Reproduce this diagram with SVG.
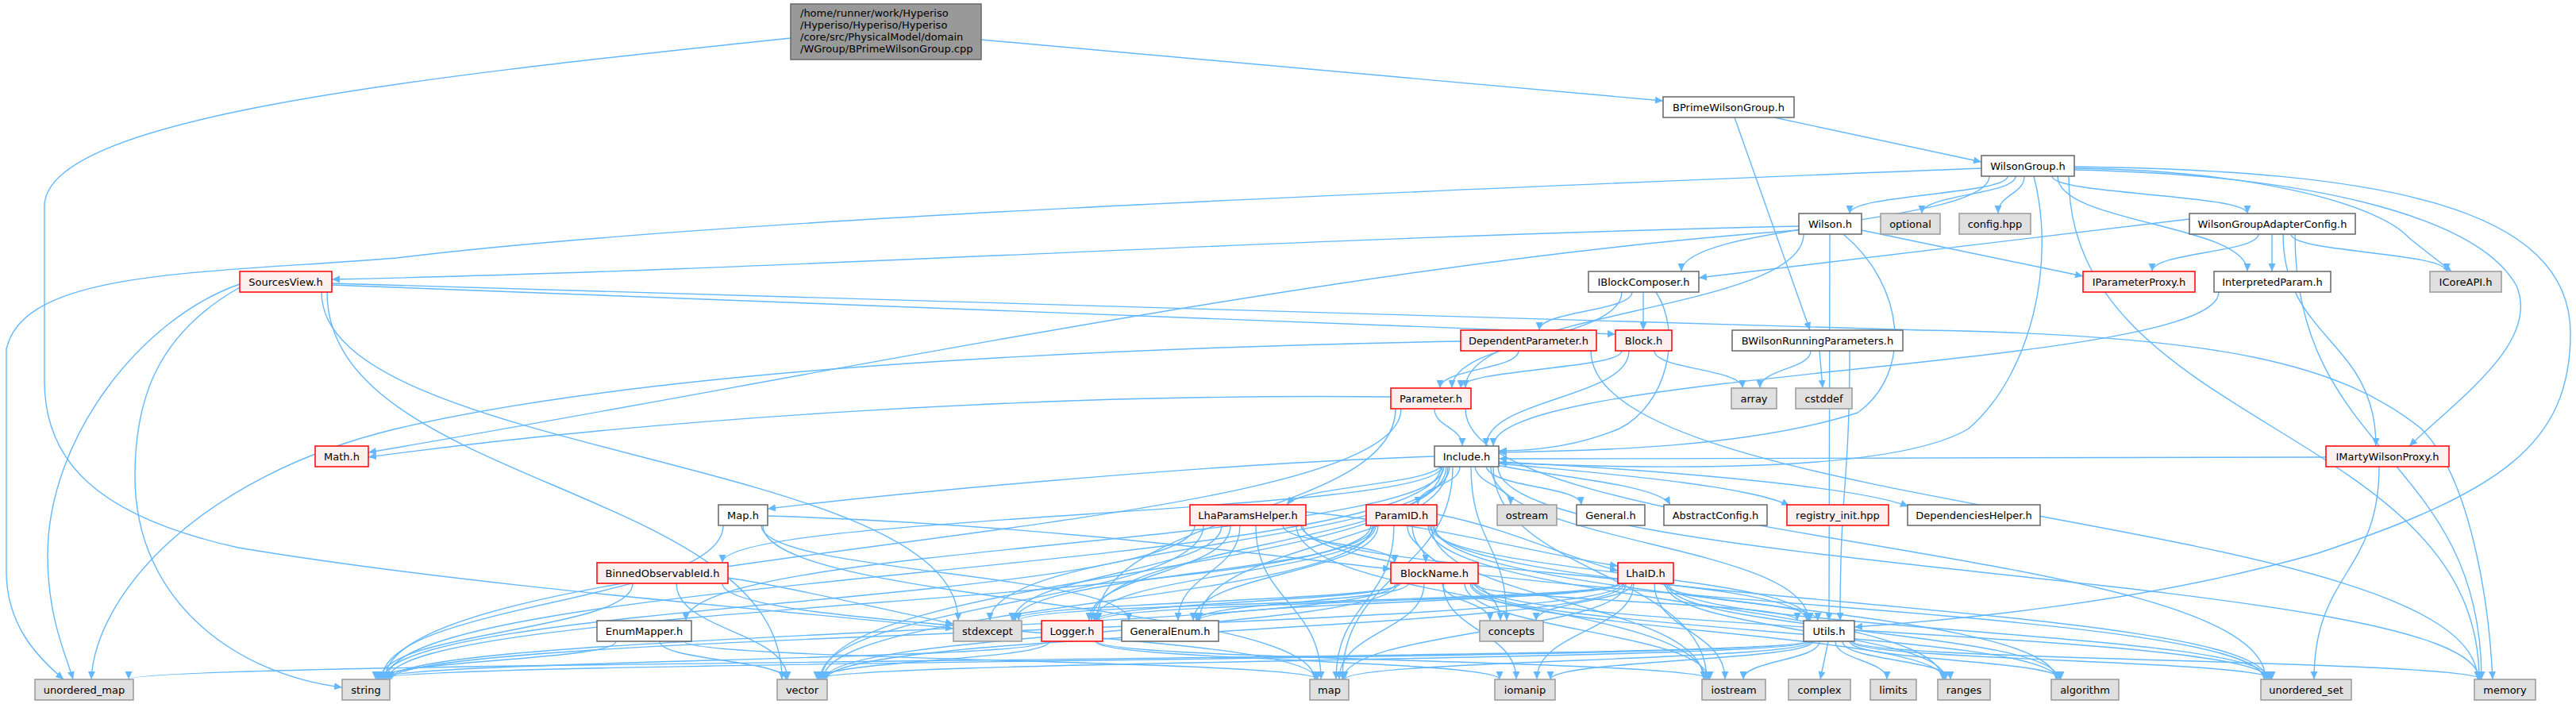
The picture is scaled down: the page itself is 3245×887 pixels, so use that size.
<svg xmlns="http://www.w3.org/2000/svg" width="3245" height="887" viewBox="0 0 3245 887">
<style>
.e{fill:none;stroke:#63b8ff;stroke-width:1.4;marker-end:url(#a)}
.w{fill:#ffffff;stroke:#666666;stroke-width:1.5}
.g{fill:#e0e0e0;stroke:#999999;stroke-width:1.5}
.r{fill:#fff0f0;stroke:#ff0000;stroke-width:1.5}
.rt{fill:#999999;stroke:#666666;stroke-width:1.5}
text{font-family:"DejaVu Sans","Liberation Sans",sans-serif;font-size:13px;fill:#000000;text-anchor:middle}
text.l{text-anchor:start}
</style>
<defs>
<marker id="a" markerUnits="userSpaceOnUse" markerWidth="11" markerHeight="9" refX="10" refY="4.5" orient="auto"><path d="M0,0 L10,4.5 L0,9 z" fill="#63b8ff"/></marker>
</defs>
<g id="edges">
<path class="e" d="M1236,50 C1600,83 1900,110 2095,127"/>
<path class="e" d="M996,48 C500,100 56,150 56,260 L56,480 C56,580 120,650 300,690 C600,740 1000,770 1201,792"/>
<path class="e" d="M2235,148 L2496,204"/>
<path class="e" d="M2185,148 L2280,416"/>
<path class="e" d="M2496,212 C1800,240 900,275 500,325 C250,345 30,340 8,440 L8,720 C8,790 50,830 80,856"/>
<path class="e" d="M2266,285 C1600,300 1000,340 418,352"/>
<path class="e" d="M418,357 L2420,416 C2800,422 2950,460 3050,540 C3110,600 3135,750 3140,856"/>
<path class="e" d="M418,359 L2035,421"/>
<path class="e" d="M2758,276 L2140,350"/>
<path class="e" d="M2345,290 L2624,348"/>
<path class="e" d="M2266,290 C1700,330 1000,480 464,570"/>
<path class="e" d="M1752,500 C1300,495 800,530 464,576"/>
<path class="e" d="M1840,430 C1300,440 800,470 500,540 C250,600 120,750 115,856"/>
<path class="e" d="M2930,576 C2500,578 2200,578 1888,578"/>
<path class="e" d="M2562,222 C2590,330 2560,470 2480,540 C2380,600 2050,590 1888,583"/>
<path class="e" d="M2613,210 C3000,215 3238,260 3238,420 C3238,560 3150,620 2920,697 C2700,760 2450,782 2336,790"/>
<path class="e" d="M2613,212 C2850,215 3000,260 3035,300 C3060,320 3080,335 3088,342"/>
<path class="e" d="M2613,214 C2900,220 3120,270 3170,360 C3200,430 3100,500 3035,562"/>
<path class="e" d="M2529,222 C2529,245 2330,245 2330,269"/>
<path class="e" d="M2539,222 C2539,245 2421,245 2421,269"/>
<path class="e" d="M2550,222 C2550,245 2517,245 2517,269"/>
<path class="e" d="M2585,222 C2585,245 2831,245 2831,269"/>
<path class="e" d="M2506,222 C2506,282 2118,282 2118,342"/>
<path class="e" d="M2592,222 C2592,282 2831,282 2831,342"/>
<path class="e" d="M2606,222 C2606,539 3123,539 3123,856"/>
<path class="e" d="M2272,295 C2272,392 1846,392 1846,489"/>
<path class="e" d="M2322,295 C2400,360 2410,470 2340,520 C2200,565 2000,568 1888,570"/>
<path class="e" d="M2305,295 C2305,538 2304,538 2304,782"/>
<path class="e" d="M2845,295 C2845,318 2711,318 2711,342"/>
<path class="e" d="M2862,295 L2862,342"/>
<path class="e" d="M2886,295 C2886,318 3082,318 3082,342"/>
<path class="e" d="M2876,295 C2876,428 2993,428 2993,562"/>
<path class="e" d="M2891,295 C2891,575 3126,575 3126,856"/>
<path class="e" d="M302,358 C180,400 60,550 60,700 C60,780 85,830 92,856"/>
<path class="e" d="M302,362 C200,420 170,500 170,600 C170,760 300,850 431,866"/>
<path class="e" d="M412,368 C412,612 985,612 985,856"/>
<path class="e" d="M405,368 C405,575 1207,575 1207,782"/>
<path class="e" d="M2056,368 C2056,392 1939,392 1939,416"/>
<path class="e" d="M2070,368 L2070,416"/>
<path class="e" d="M2043,368 C2043,428 1829,428 1829,489"/>
<path class="e" d="M2086,368 C2120,420 2100,510 2040,540 C1980,565 1920,568 1888,568"/>
<path class="e" d="M1913,442 C1913,465 1814,465 1814,489"/>
<path class="e" d="M2004,442 C2004,649 3121,649 3121,856"/>
<path class="e" d="M2043,442 C2043,465 1840,465 1840,489"/>
<path class="e" d="M2052,442 C2052,502 1872,502 1872,562"/>
<path class="e" d="M2084,442 C2084,465 2195,465 2195,489"/>
<path class="e" d="M2281,442 C2281,465 2217,465 2217,489"/>
<path class="e" d="M2292,442 L2296,489"/>
<path class="e" d="M2330,442 C2330,612 2318,612 2318,782"/>
<path class="e" d="M2795,368 C2795,465 1881,465 1881,562"/>
<path class="e" d="M2997,588 C2997,722 2915,722 2915,856"/>
<path class="e" d="M1807,515 C1807,538 1842,538 1842,562"/>
<path class="e" d="M1758,515 C1758,648 1382,648 1382,782"/>
<path class="e" d="M1765,515 C1765,685 485,685 485,856"/>
<path class="e" d="M1846,515 C1846,685 2854,685 2854,856"/>
<path class="e" d="M1807,575 C1500,585 1100,625 967,641"/>
<path class="e" d="M1816,588 C1816,648 910,648 910,709"/>
<path class="e" d="M1819,588 C1819,685 864,685 864,782"/>
<path class="e" d="M1815,588 C1790,612 1640,612 1621,636"/>
<path class="e" d="M1839,588 C1839,612 1786,612 1786,636"/>
<path class="e" d="M1858,588 C1862,612 1903,612 1903,636"/>
<path class="e" d="M1872,588 C1880,615 1990,612 1992,636"/>
<path class="e" d="M1886,586 C1950,600 2090,610 2104,636"/>
<path class="e" d="M1888,584 C2000,595 2200,610 2254,637"/>
<path class="e" d="M1888,582 C2050,590 2330,610 2404,638"/>
<path class="e" d="M1853,588 C1853,685 1898,685 1898,782"/>
<path class="e" d="M1822,588 C1822,685 1375,685 1375,782"/>
<path class="e" d="M1824,588 C1824,685 1511,685 1511,782"/>
<path class="e" d="M1826,588 C1826,685 1247,685 1247,782"/>
<path class="e" d="M1815,588 C1815,722 487,722 487,856"/>
<path class="e" d="M1817,588 C1817,722 1035,722 1035,856"/>
<path class="e" d="M1830,588 C1830,722 1691,722 1691,856"/>
<path class="e" d="M1881,588 C1881,722 2150,722 2150,856"/>
<path class="e" d="M1887,588 C1887,722 3123,722 3123,856"/>
<path class="e" d="M1878,588 C1878,685 2278,685 2278,782"/>
<path class="e" d="M1616,662 C1616,685 1757,685 1757,709"/>
<path class="e" d="M1645,645 C1800,660 1950,700 2038,713"/>
<path class="e" d="M1505,662 C1505,759 483,759 483,856"/>
<path class="e" d="M1539,662 C1539,722 1277,722 1277,782"/>
<path class="e" d="M1550,662 C1550,722 1372,722 1372,782"/>
<path class="e" d="M1562,662 C1562,722 1484,722 1484,782"/>
<path class="e" d="M1582,662 C1582,759 1664,759 1664,856"/>
<path class="e" d="M1516,662 C1516,759 1033,759 1033,856"/>
<path class="e" d="M1639,662 C1639,722 2276,722 2276,782"/>
<path class="e" d="M1641,662 C1641,759 2852,759 2852,856"/>
<path class="e" d="M1633,662 C1633,759 2148,759 2148,856"/>
<path class="e" d="M1773,662 C1773,685 1796,685 1796,709"/>
<path class="e" d="M1810,648 C1900,665 1980,705 2038,719"/>
<path class="e" d="M1779,662 C1779,722 1890,722 1890,782"/>
<path class="e" d="M1727,662 C1727,759 489,759 489,856"/>
<path class="e" d="M1729,662 C1729,759 1037,759 1037,856"/>
<path class="e" d="M1731,662 C1731,722 1279,722 1279,782"/>
<path class="e" d="M1733,662 C1733,722 1378,722 1378,782"/>
<path class="e" d="M1736,662 C1736,722 1503,722 1503,782"/>
<path class="e" d="M1756,662 C1756,759 1683,759 1683,856"/>
<path class="e" d="M1803,662 C1803,759 2146,759 2146,856"/>
<path class="e" d="M1801,662 C1801,722 2280,722 2280,782"/>
<path class="e" d="M1805,662 C1805,759 2856,759 2856,856"/>
<path class="e" d="M1807,662 C1807,759 2590,759 2590,856"/>
<path class="e" d="M1799,662 C1799,759 2447,759 2447,856"/>
<path class="e" d="M1817,735 C1817,758 1877,758 1877,782"/>
<path class="e" d="M1794,735 C1794,795 1687,795 1687,856"/>
<path class="e" d="M1758,735 C1758,795 491,795 491,856"/>
<path class="e" d="M1760,735 C1760,795 1039,795 1039,856"/>
<path class="e" d="M1762,735 C1762,758 1380,758 1380,782"/>
<path class="e" d="M1774,735 C1774,758 1507,758 1507,782"/>
<path class="e" d="M1764,735 C1764,758 1275,758 1275,782"/>
<path class="e" d="M1845,735 C1845,795 2152,795 2152,856"/>
<path class="e" d="M1856,735 C1856,758 2264,758 2264,782"/>
<path class="e" d="M1858,735 C1858,795 2858,795 2858,856"/>
<path class="e" d="M1854,735 C1854,795 2592,795 2592,856"/>
<path class="e" d="M1852,735 C1852,795 2449,795 2449,856"/>
<path class="e" d="M1818,735 C1818,795 1910,795 1910,856"/>
<path class="e" d="M2056,735 C2056,758 1935,758 1935,782"/>
<path class="e" d="M2096,735 C2096,758 2290,758 2290,782"/>
<path class="e" d="M2044,735 C2044,795 493,795 493,856"/>
<path class="e" d="M2046,735 C2046,795 1041,795 1041,856"/>
<path class="e" d="M2048,735 C2048,795 1692,795 1692,856"/>
<path class="e" d="M2084,735 C2084,795 2173,795 2173,856"/>
<path class="e" d="M2102,735 C2102,795 2860,795 2860,856"/>
<path class="e" d="M2100,735 C2100,795 2594,795 2594,856"/>
<path class="e" d="M2098,735 C2098,795 2451,795 2451,856"/>
<path class="e" d="M2042,735 C2042,758 1384,758 1384,782"/>
<path class="e" d="M2040,735 C2040,758 1509,758 1509,782"/>
<path class="e" d="M2038,735 C2038,758 1283,758 1283,782"/>
<path class="e" d="M2058,735 C2058,795 1936,795 1936,856"/>
<path class="e" d="M911,662 C911,759 481,759 481,856"/>
<path class="e" d="M961,662 C961,759 1656,759 1656,856"/>
<path class="e" d="M959,662 C959,722 1422,722 1422,782"/>
<path class="e" d="M967,650 C1300,660 1600,700 1752,717"/>
<path class="e" d="M797,735 C797,795 479,795 479,856"/>
<path class="e" d="M852,735 C852,795 992,795 992,856"/>
<path class="e" d="M917,728 C1000,740 1120,770 1201,786"/>
<path class="e" d="M910,735 C910,795 1658,795 1658,856"/>
<path class="e" d="M776,808 C776,832 477,832 477,856"/>
<path class="e" d="M831,808 C831,832 990,832 990,856"/>
<path class="e" d="M862,808 C862,832 1660,832 1660,856"/>
<path class="e" d="M1318,808 C1318,832 475,832 475,856"/>
<path class="e" d="M1322,808 C1322,832 1031,832 1031,856"/>
<path class="e" d="M1382,808 C1382,832 2154,832 2154,856"/>
<path class="e" d="M1380,808 C1380,832 1889,832 1889,856"/>
<path class="e" d="M2278,808 C2278,832 473,832 473,856"/>
<path class="e" d="M2280,808 C2280,832 1029,832 1029,856"/>
<path class="e" d="M2282,808 C2282,832 1694,832 1694,856"/>
<path class="e" d="M2276,808 C2276,832 162,832 162,856"/>
<path class="e" d="M2292,808 C2292,832 2196,832 2196,856"/>
<path class="e" d="M2303,808 L2293,856"/>
<path class="e" d="M2312,808 C2312,832 2377,832 2377,856"/>
<path class="e" d="M2321,808 C2321,832 2457,832 2457,856"/>
<path class="e" d="M2330,808 C2330,832 2596,832 2596,856"/>
<path class="e" d="M2332,808 C2332,832 2862,832 2862,856"/>
<path class="e" d="M2334,808 C2334,832 3125,832 3125,856"/>
<path class="e" d="M2284,808 C2284,832 1953,832 1953,856"/>
</g>
<g id="n_root"><rect class="rt" x="996" y="5" width="240" height="70"/>
<text class="l" x="1008" y="21">/home/runner/work/Hyperiso</text>
<text class="l" x="1008" y="36">/Hyperiso/Hyperiso/Hyperiso</text>
<text class="l" x="1008" y="51">/core/src/PhysicalModel/domain</text>
<text class="l" x="1008" y="66">/WGroup/BPrimeWilsonGroup.cpp</text></g>
<g id="n_bpw"><rect class="w" x="2095" y="122" width="165" height="26"/><text x="2177.5" y="139.5">BPrimeWilsonGroup.h</text></g>
<g id="n_wg"><rect class="w" x="2496" y="196" width="117" height="26"/><text x="2554.5" y="213.5">WilsonGroup.h</text></g>
<g id="n_wilson"><rect class="w" x="2266" y="269" width="79" height="26"/><text x="2305.5" y="286.5">Wilson.h</text></g>
<g id="n_optional"><rect class="g" x="2369" y="269" width="75" height="26"/><text x="2406.5" y="286.5">optional</text></g>
<g id="n_config"><rect class="g" x="2468" y="269" width="90" height="26"/><text x="2513" y="286.5">config.hpp</text></g>
<g id="n_wgac"><rect class="w" x="2758" y="269" width="209" height="26"/><text x="2862.5" y="286.5">WilsonGroupAdapterConfig.h</text></g>
<g id="n_sv"><rect class="r" x="302" y="342" width="116" height="26"/><text x="360" y="359.5">SourcesView.h</text></g>
<g id="n_ibc"><rect class="w" x="2001" y="342" width="139" height="26"/><text x="2070.5" y="359.5">IBlockComposer.h</text></g>
<g id="n_ipp"><rect class="r" x="2624" y="342" width="141" height="26"/><text x="2694.5" y="359.5">IParameterProxy.h</text></g>
<g id="n_ip"><rect class="w" x="2789" y="342" width="147" height="26"/><text x="2862.5" y="359.5">InterpretedParam.h</text></g>
<g id="n_icore"><rect class="g" x="3061" y="342" width="90" height="26"/><text x="3106" y="359.5">ICoreAPI.h</text></g>
<g id="n_dp"><rect class="r" x="1840" y="416" width="171" height="26"/><text x="1925.5" y="433.5">DependentParameter.h</text></g>
<g id="n_block"><rect class="r" x="2035" y="416" width="71" height="26"/><text x="2070.5" y="433.5">Block.h</text></g>
<g id="n_bwrp"><rect class="w" x="2182" y="416" width="215" height="26"/><text x="2289.5" y="433.5">BWilsonRunningParameters.h</text></g>
<g id="n_param"><rect class="r" x="1752" y="489" width="101" height="26"/><text x="1802.5" y="506.5">Parameter.h</text></g>
<g id="n_array"><rect class="g" x="2181" y="489" width="57" height="26"/><text x="2209.5" y="506.5">array</text></g>
<g id="n_cstddef"><rect class="g" x="2262" y="489" width="71" height="26"/><text x="2297.5" y="506.5">cstddef</text></g>
<g id="n_math"><rect class="r" x="397" y="562" width="67" height="26"/><text x="430.5" y="579.5">Math.h</text></g>
<g id="n_include"><rect class="w" x="1807" y="562" width="81" height="26"/><text x="1847.5" y="579.5">Include.h</text></g>
<g id="n_imarty"><rect class="r" x="2930" y="562" width="155" height="26"/><text x="3007.5" y="579.5">IMartyWilsonProxy.h</text></g>
<g id="n_map_h"><rect class="w" x="905" y="636" width="62" height="26"/><text x="936" y="653.5">Map.h</text></g>
<g id="n_lph"><rect class="r" x="1499" y="636" width="146" height="26"/><text x="1572" y="653.5">LhaParamsHelper.h</text></g>
<g id="n_paramid"><rect class="r" x="1721" y="636" width="89" height="26"/><text x="1765.5" y="653.5">ParamID.h</text></g>
<g id="n_ostream"><rect class="g" x="1886" y="636" width="75" height="26"/><text x="1923.5" y="653.5">ostream</text></g>
<g id="n_general"><rect class="w" x="1986" y="636" width="86" height="26"/><text x="2029" y="653.5">General.h</text></g>
<g id="n_abscfg"><rect class="w" x="2096" y="636" width="130" height="26"/><text x="2161" y="653.5">AbstractConfig.h</text></g>
<g id="n_reg"><rect class="r" x="2251" y="636" width="128" height="26"/><text x="2315" y="653.5">registry_init.hpp</text></g>
<g id="n_deph"><rect class="w" x="2403" y="636" width="167" height="26"/><text x="2486.5" y="653.5">DependenciesHelper.h</text></g>
<g id="n_boi"><rect class="r" x="752" y="709" width="165" height="26"/><text x="834.5" y="726.5">BinnedObservableId.h</text></g>
<g id="n_bn"><rect class="r" x="1752" y="709" width="110" height="26"/><text x="1807" y="726.5">BlockName.h</text></g>
<g id="n_lhaid"><rect class="r" x="2038" y="709" width="70" height="26"/><text x="2073" y="726.5">LhaID.h</text></g>
<g id="n_em"><rect class="w" x="752" y="782" width="119" height="26"/><text x="811.5" y="799.5">EnumMapper.h</text></g>
<g id="n_stdexcept"><rect class="g" x="1201" y="782" width="86" height="26"/><text x="1244" y="799.5">stdexcept</text></g>
<g id="n_logger"><rect class="r" x="1312" y="782" width="77" height="26"/><text x="1350.5" y="799.5">Logger.h</text></g>
<g id="n_ge"><rect class="w" x="1413" y="782" width="122" height="26"/><text x="1474" y="799.5">GeneralEnum.h</text></g>
<g id="n_concepts"><rect class="g" x="1864" y="782" width="80" height="26"/><text x="1904" y="799.5">concepts</text></g>
<g id="n_utils"><rect class="w" x="2272" y="782" width="64" height="26"/><text x="2304" y="799.5">Utils.h</text></g>
<g id="n_umap"><rect class="g" x="44" y="856" width="124" height="26"/><text x="106" y="873.5">unordered_map</text></g>
<g id="n_string"><rect class="g" x="431" y="856" width="60" height="26"/><text x="461" y="873.5">string</text></g>
<g id="n_vector"><rect class="g" x="979" y="856" width="63" height="26"/><text x="1010.5" y="873.5">vector</text></g>
<g id="n_map"><rect class="g" x="1650" y="856" width="49" height="26"/><text x="1674.5" y="873.5">map</text></g>
<g id="n_iomanip"><rect class="g" x="1883" y="856" width="76" height="26"/><text x="1921" y="873.5">iomanip</text></g>
<g id="n_iostream"><rect class="g" x="2144" y="856" width="80" height="26"/><text x="2184" y="873.5">iostream</text></g>
<g id="n_complex"><rect class="g" x="2253" y="856" width="78" height="26"/><text x="2292" y="873.5">complex</text></g>
<g id="n_limits"><rect class="g" x="2356" y="856" width="58" height="26"/><text x="2385" y="873.5">limits</text></g>
<g id="n_ranges"><rect class="g" x="2441" y="856" width="66" height="26"/><text x="2474" y="873.5">ranges</text></g>
<g id="n_algorithm"><rect class="g" x="2584" y="856" width="85" height="26"/><text x="2626.5" y="873.5">algorithm</text></g>
<g id="n_uset"><rect class="g" x="2848" y="856" width="114" height="26"/><text x="2905" y="873.5">unordered_set</text></g>
<g id="n_memory"><rect class="g" x="3117" y="856" width="77" height="26"/><text x="3155.5" y="873.5">memory</text></g>
</svg>
